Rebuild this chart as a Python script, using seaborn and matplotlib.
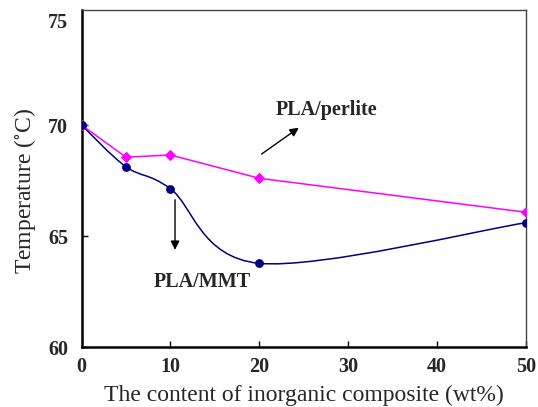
import numpy as np
import pandas as pd
import matplotlib
matplotlib.use("Agg")
import matplotlib.pyplot as plt
from matplotlib.path import Path
from matplotlib.patches import PathPatch
from matplotlib.transforms import ScaledTranslation
import seaborn as sns

content = [0, 5, 10, 20, 50]
mmt_temp = [70.0, 68.12, 67.13, 63.77, 65.6]
perlite_temp = [70.0, 68.55, 68.65, 67.6, 66.07]
x_ticks = [0, 10, 20, 30, 40, 50]
y_ticks = [60, 65, 70, 75]

sns.set_theme(style="white")
plt.rcParams['font.family'] = ['Liberation Serif', 'DejaVu Serif']
plt.rcParams['mathtext.fontset'] = 'stix'

fig = plt.figure(figsize=(5.38, 4.07), dpi=100)
ax = fig.add_axes([0.1515, 0.1474, 0.9777 - 0.1515, 0.9754 - 0.1474])

df = pd.DataFrame({"x": content, "mmt": mmt_temp, "perlite": perlite_temp})

# PLA/perlite: straight segments with diamonds
sns.lineplot(data=df, x="x", y="perlite", ax=ax, color="#FF00FF", lw=1.1,
             marker="D", markersize=5.2, markeredgecolor="#FF00FF", zorder=3)

# PLA/MMT: smoothed (Catmull-Rom Bezier) curve through the points
pts = np.column_stack([content, mmt_temp]).astype(float)
verts = [tuple(pts[0])]
codes = [Path.MOVETO]
n = len(pts)
for i in range(n - 1):
    p0 = pts[i - 1] if i > 0 else pts[i]
    p1 = pts[i]
    p2 = pts[i + 1]
    p3 = pts[i + 2] if i + 2 < n else pts[i + 1]
    c1 = p1 + (p2 - p0) / 6.0
    c2 = p2 - (p3 - p1) / 6.0
    verts += [tuple(c1), tuple(c2), tuple(p2)]
    codes += [Path.CURVE4] * 3
ax.add_patch(PathPatch(Path(verts, codes), facecolor="none", edgecolor="#000080",
                       lw=1.1, zorder=2))
sns.scatterplot(data=df, x="x", y="mmt", ax=ax, color="#000080", s=34,
                edgecolor="#000080", marker="o", zorder=4)

ax.set_xlim(0, 50)
ax.set_ylim(60, 75.18)
ax.set_xticks(x_ticks)
ax.set_yticks(y_ticks)
ax.set_xticklabels([str(v) for v in x_ticks], fontweight="bold", fontsize=14.5)
ax.set_yticklabels([str(v) for v in y_ticks], fontweight="bold", fontsize=14.5)
ax.tick_params(axis="both", direction="in", length=4, width=1, color="black",
               bottom=True, left=True, top=False, right=False)
ax.tick_params(axis="y", pad=9.5)
ax.tick_params(axis="x", pad=7)
ax.yaxis.get_major_ticks()[-1].tick1line.set_visible(False)

# the "75" label sits a little lower in the reference
lab75 = ax.get_yticklabels()[-1]
lab75.set_transform(lab75.get_transform() + ScaledTranslation(0, -6 / 100, fig.dpi_scale_trans))

for s in ["left", "bottom"]:
    ax.spines[s].set_color("black")
    ax.spines[s].set_linewidth(1.8)
for s in ["top", "right"]:
    ax.spines[s].set_color("#444444")
    ax.spines[s].set_linewidth(1.0)

ax.set_xlabel("The content of inorganic composite (wt%)", fontsize=17, labelpad=6)
ax.set_ylabel("Temperature ($^{\\circ}$C)", fontsize=17, labelpad=7.5)
ax.yaxis.label.set_y(0.463)

ax.annotate("", xy=(24.7, 69.95), xytext=(20.0, 68.62),
            arrowprops=dict(arrowstyle="-|>", color="black", lw=1.0, mutation_scale=13))
ax.text(27.55, 70.68, "PLA/perlite", fontsize=14.5, fontweight="bold", ha="center", va="center")
ax.annotate("", xy=(10.52, 64.25), xytext=(10.52, 66.76),
            arrowprops=dict(arrowstyle="-|>", color="black", lw=1.0, mutation_scale=13))
ax.text(13.55, 62.95, "PLA/MMT", fontsize=14.5, fontweight="bold", ha="center", va="center")

fig.savefig("out.png", dpi=100)
